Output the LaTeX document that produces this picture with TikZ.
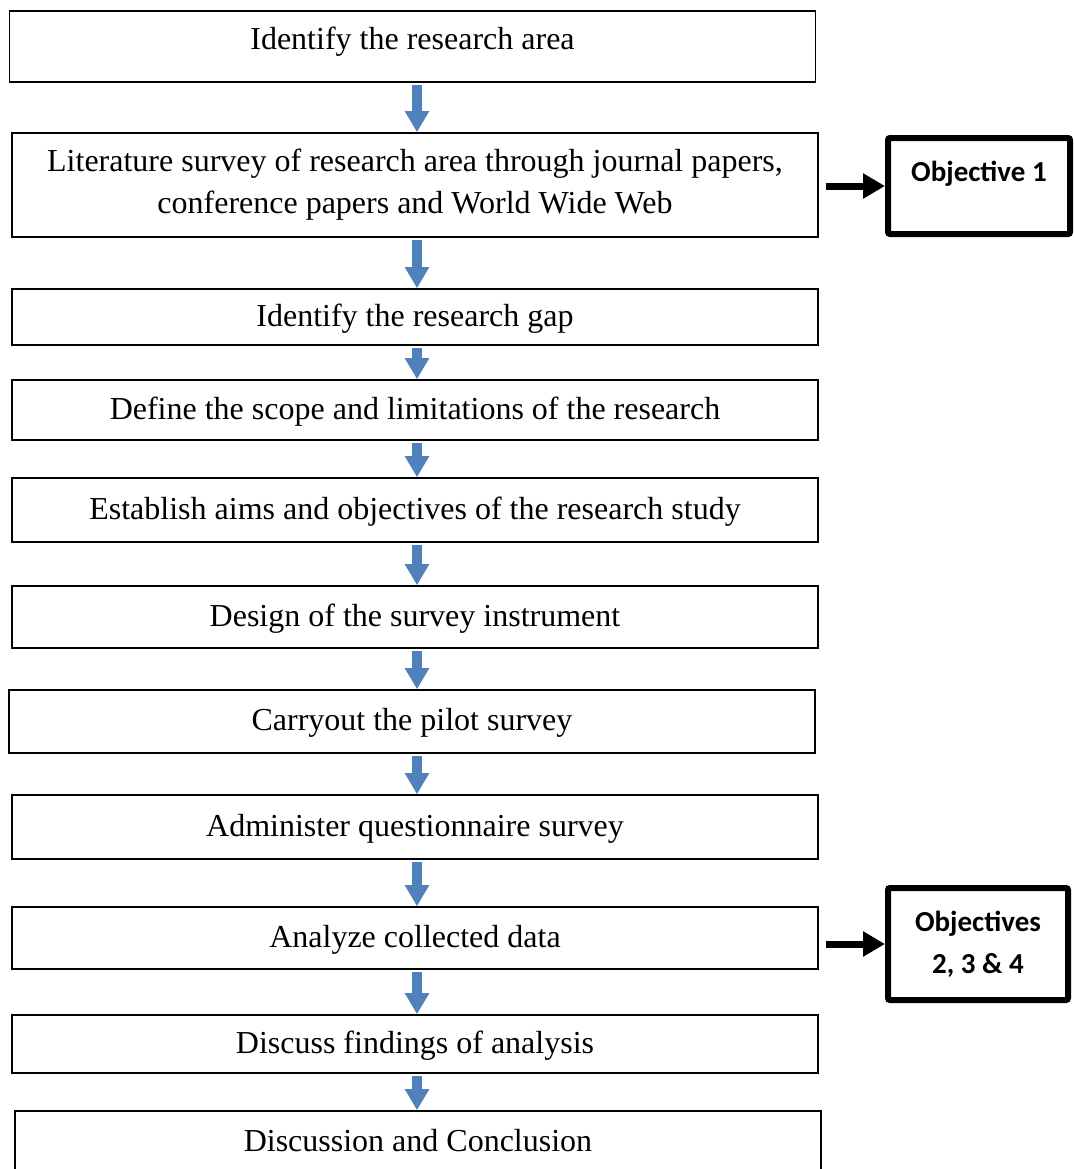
\documentclass[tikz,border=0pt]{standalone}
\usepackage{fontspec}
\setmainfont{Liberation Serif}
\newfontfamily\objfont{Carlito}
\usetikzlibrary{arrows.meta}
\definecolor{flowblue}{RGB}{79,129,189}

\begin{document}
\begin{tikzpicture}[x=0.5pt, y=-0.5pt,
		stepbox/.style={draw, line width=0.8pt, minimum width=403pt, align=center, inner sep=0pt, text height=13.4pt, text depth=4pt, font=\fontsize{16}{21}\selectfont},
		objbox/.style={draw, line width=3pt, rounded corners=1pt, align=center, inner sep=0pt, font=\objfont\bfseries\fontsize{14.5}{21}\selectfont},
		flow/.style={draw=flowblue, line width=5pt, -{Triangle[width=11.5pt,length=10.5pt]}},
		side/.style={line width=3.5pt, -{Triangle[width=12pt,length=11pt]}}]
		\useasboundingbox (0,0) rectangle (1073,1169);

		\node[stepbox, minimum height=35.5pt, text depth=10pt] (area) at (412.5,46.5) {Identify the research area};
		\node[stepbox, minimum height=52pt, text height=, text depth=] (lit) at (415,185) {Literature survey of research area through journal papers,\\ conference papers and World Wide Web};
		\node[stepbox, minimum height=28pt] (gap) at (415,317) {Identify the research gap};
		\node[stepbox, minimum height=30pt] (scope) at (415,410) {Define the scope and limitations of the research};
		\node[stepbox, minimum height=32pt] (aims) at (415,510) {Establish aims and objectives of the research study};
		\node[stepbox, minimum height=31pt] (design) at (415,617) {Design of the survey instrument};
		\node[stepbox, minimum height=31.5pt] (pilot) at (412,721.5) {Carryout the pilot survey};
		\node[stepbox, minimum height=32pt] (admin) at (415,827) {Administer questionnaire survey};
		\node[stepbox, minimum height=31pt] (analyze) at (415,938) {Analyze collected data};
		\node[stepbox, minimum height=29pt] (findings) at (415,1044) {Discuss findings of analysis};
		\node[stepbox, minimum height=31pt] (concl) at (418,1142) {Discussion and Conclusion};

		\node[objbox, minimum width=91pt, minimum height=48pt, text height=10pt, text depth=15pt] (obj1) at (979,186) {Objective 1};
		\node[objbox, minimum width=90pt, minimum height=56pt] (obj2) at (978,944) {Objectives\\ 2, 3 \& 4};

		\coordinate (ax) at (417,0);
		\foreach \a/\b in {area/lit, lit/gap, gap/scope, scope/aims, aims/design, design/pilot, pilot/admin, admin/analyze, analyze/findings, findings/concl}
			\draw[flow, shorten <=1pt] (\a.south -| ax) -- (\b.north -| ax);

		\draw[side, shorten <=3.5pt] (lit.east |- obj1.west) -- (obj1.west);
		\draw[side, shorten <=3.5pt] (analyze.east |- obj2.west) -- (obj2.west);
	\end{tikzpicture}
\end{document}
